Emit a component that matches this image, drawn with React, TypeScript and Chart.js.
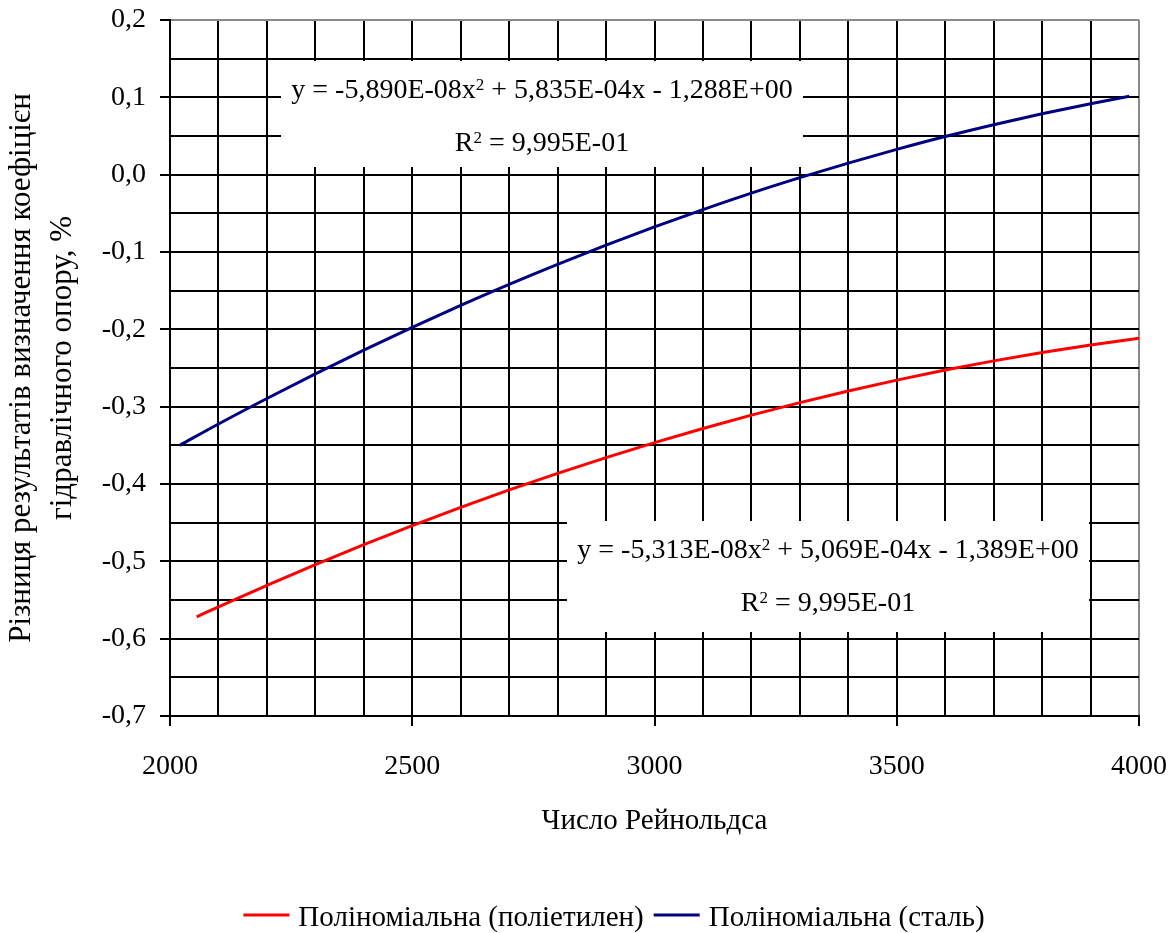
import { useEffect, useRef } from 'react';
import { Chart, registerables } from 'chart.js';

Chart.register(...registerables);

// Reynolds numbers and fitted differences for steel pipes
const reSteel = [2020, 2100, 2200, 2300, 2400, 2500, 2600, 2700, 2800, 2900, 3000, 3100, 3200, 3300, 3400, 3500, 3600, 3700, 3800, 3900, 3980];
const diffSteel = [-0.350, -0.3224, -0.2894, -0.2575, -0.2269, -0.1974, -0.1691, -0.1419, -0.1160, -0.0912, -0.0676, -0.0452, -0.0239, -0.0039, 0.0150, 0.0327, 0.0493, 0.0646, 0.0788, 0.0918, 0.1013];

// Reynolds numbers and fitted differences for polyethylene pipes
const rePoly = [2055, 2100, 2200, 2300, 2400, 2500, 2600, 2700, 2800, 2900, 3000, 3100, 3200, 3300, 3400, 3500, 3600, 3700, 3800, 3900, 4000];
const diffPoly = [-0.5717, -0.5588, -0.5310, -0.5042, -0.4785, -0.4538, -0.4302, -0.4077, -0.3862, -0.3658, -0.3465, -0.3282, -0.3110, -0.2948, -0.2797, -0.2657, -0.2527, -0.2408, -0.2300, -0.2202, -0.2115];

const seriesNames = ['Поліноміальна (поліетилен)', 'Поліноміальна (сталь)'];
const seriesColors = ['#ff0000', '#000080'];

const xTitle = 'Число Рейнольдса';
const yTitle = ['Різниця результатів визначення коефіцієн', 'гідравлічного опору, %'];

// Trend equation labels: text runs, "sup" marks a superscript run
type Run = { t: string; sup?: boolean };
const eqSteel: Run[] = [{ t: 'y = -5,890E-08x' }, { t: '2', sup: true }, { t: ' + 5,835E-04x - 1,288E+00' }];
const r2Steel: Run[] = [{ t: 'R' }, { t: '2', sup: true }, { t: ' = 9,995E-01' }];
const eqPoly: Run[] = [{ t: 'y = -5,313E-08x' }, { t: '2', sup: true }, { t: ' + 5,069E-04x - 1,389E+00' }];
const r2Poly: Run[] = [{ t: 'R' }, { t: '2', sup: true }, { t: ' = 9,995E-01' }];

const FONT = '"Liberation Serif", "Times New Roman", serif';
const SIZE = 28;

// label boxes, canvas pixels: x, y, w, h and text baselines
const labelBoxes = [
  { x: 281, y: 61, w: 522, h: 106, lines: [eqSteel, r2Steel], baselines: [98, 151] },
  { x: 567, y: 521, w: 522, h: 111, lines: [eqPoly, r2Poly], baselines: [558, 611] },
];

function drawRuns(ctx: CanvasRenderingContext2D, runs: Run[], cx: number, baseline: number) {
  const base = `${SIZE}px ${FONT}`;
  const sup = `17px ${FONT}`;
  let total = 0;
  for (const r of runs) {
    ctx.font = r.sup ? sup : base;
    total += ctx.measureText(r.t).width;
  }
  let x = cx - total / 2;
  ctx.textAlign = 'left';
  ctx.textBaseline = 'alphabetic';
  for (const r of runs) {
    ctx.font = r.sup ? sup : base;
    ctx.fillText(r.t, x, r.sup ? baseline - 8 : baseline);
    x += ctx.measureText(r.t).width;
  }
}

const labelPlugin = {
  id: 'trendLabels',
  afterDatasetsDraw(chart: any) {
    const ctx: CanvasRenderingContext2D = chart.ctx;
    ctx.save();
    for (const b of labelBoxes) {
      ctx.fillStyle = '#ffffff';
      ctx.fillRect(b.x, b.y, b.w, b.h);
      ctx.fillStyle = '#000000';
      b.lines.forEach((runs, i) => drawRuns(ctx, runs, b.x + b.w / 2, b.baselines[i]));
    }
    ctx.restore();
  },
};

// bottom legend with line samples
const legendPlugin = {
  id: 'lineLegend',
  afterDraw(chart: any) {
    const ctx: CanvasRenderingContext2D = chart.ctx;
    const sample = 46;
    const gap = 9;
    const between = 10;
    const cy = 915;
    const baseline = 926;
    ctx.save();
    ctx.font = `29px ${FONT}`;
    const items = chart.data.datasets.map((d: any) => ({ label: d.label, color: d.borderColor, w: ctx.measureText(d.label).width }));
    let total = 0;
    items.forEach((it: any, i: number) => {
      total += sample + gap + it.w + (i < items.length - 1 ? between : 0);
    });
    let x = 614 - total / 2;
    for (const it of items) {
      ctx.strokeStyle = it.color;
      ctx.lineWidth = 3;
      ctx.beginPath();
      ctx.moveTo(x, cy);
      ctx.lineTo(x + sample, cy);
      ctx.stroke();
      x += sample + gap;
      ctx.fillStyle = '#000';
      ctx.textAlign = 'left';
      ctx.textBaseline = 'alphabetic';
      ctx.fillText(it.label, x, baseline);
      x += it.w + between;
    }
    ctx.restore();
  },
};

const isMultiple = (v: number, step: number) => Math.abs(Math.round(v / step) * step - v) < 1e-6;

export default function App() {
  const ref = useRef<HTMLCanvasElement>(null);

  useEffect(() => {
    if (!ref.current) return;
    const chart = new Chart(ref.current, {
      type: 'line',
      data: {
        datasets: [
          {
            label: seriesNames[0],
            data: rePoly.map((x, i) => ({ x, y: diffPoly[i] })),
            borderColor: seriesColors[0],
            backgroundColor: seriesColors[0],
            borderWidth: 3,
            pointRadius: 0,
            cubicInterpolationMode: 'monotone',
          },
          {
            label: seriesNames[1],
            data: reSteel.map((x, i) => ({ x, y: diffSteel[i] })),
            borderColor: seriesColors[1],
            backgroundColor: seriesColors[1],
            borderWidth: 3,
            pointRadius: 0,
            cubicInterpolationMode: 'monotone',
          },
        ],
      },
      options: {
        animation: false,
        responsive: false,
        layout: { padding: { left: 0, right: 35, top: 20, bottom: 0 } },
        plugins: {
          legend: { display: false },
          tooltip: { enabled: false },
          title: { display: false },
        },
        scales: {
          x: {
            type: 'linear',
            min: 2000,
            max: 4000,
            afterFit: (s: any) => {
              s.height = 217;
              s.paddingLeft = 0;
              s.paddingRight = 0;
            },
            ticks: {
              stepSize: 100,
              autoSkip: false,
              maxRotation: 0,
              padding: 24,
              color: '#000',
              font: { family: FONT, size: SIZE },
              callback: (v: any) => (isMultiple(Number(v), 500) ? String(v) : ''),
            },
            grid: {
              color: (c: any) => (c.tick && c.tick.value === 4000 ? '#8a8a8a' : '#000'),
              lineWidth: 2,
              tickLength: 10,
              tickWidth: 2,
              tickColor: (c: any) => (c.tick && isMultiple(c.tick.value, 500) ? '#000' : 'rgba(0,0,0,0)'),
            },
            border: { color: '#000', width: 2 },
            title: {
              display: true,
              text: xTitle,
              color: '#000',
              font: { family: FONT, size: 29, lineHeight: 1.2 },
              padding: { top: 0, bottom: 94 },
            },
          },
          y: {
            min: -0.7,
            max: 0.2,
            afterFit: (s: any) => {
              s.width = 170;
              s.paddingTop = 0;
              s.paddingBottom = 0;
            },
            ticks: {
              stepSize: 0.05,
              autoSkip: false,
              padding: 14,
              color: '#000',
              font: { family: FONT, size: SIZE },
              callback: (v: any) => {
                const n = Number(v);
                if (!isMultiple(n, 0.1)) return '';
                const r = Math.round(n * 10) / 10;
                return (Math.abs(r) < 1e-9 ? 0 : r).toFixed(1).replace('.', ',');
              },
            },
            grid: {
              color: (c: any) => (c.tick && Math.abs(c.tick.value - 0.2) < 1e-6 ? '#8a8a8a' : '#000'),
              lineWidth: 2,
              tickLength: 10,
              tickWidth: 2,
              tickColor: (c: any) => (c.tick && isMultiple(c.tick.value, 0.1) ? '#000' : 'rgba(0,0,0,0)'),
            },
            border: { color: '#000', width: 2 },
            title: {
              display: true,
              text: yTitle,
              color: '#000',
              font: { family: FONT, size: 31, lineHeight: 1.3 },
              padding: { top: 2, bottom: 0 },
            },
          },
        },
      },
      plugins: [labelPlugin, legendPlugin],
    } as any);
    return () => chart.destroy();
  }, []);

  return (
    <div style={{ position: 'absolute', left: 0, top: 0, width: 1174, height: 933, background: '#fff' }}>
      <canvas ref={ref} width={1174} height={933} style={{ display: 'block' }} />
    </div>
  );
}
